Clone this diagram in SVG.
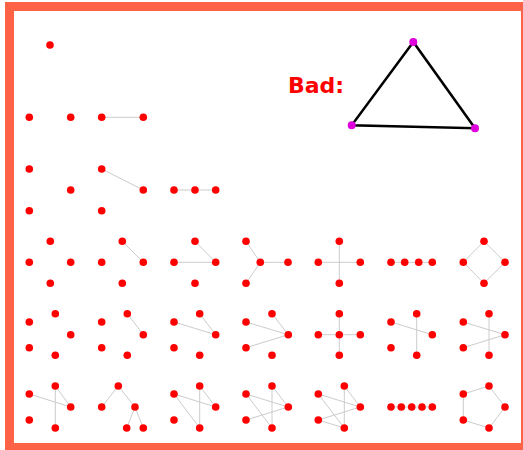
<svg xmlns="http://www.w3.org/2000/svg" width="523" height="450" viewBox="0 0 523 450">
<style>
.n{fill:#ff0000}
.e{stroke:#cccccc;stroke-width:1;fill:none}
.b{stroke:#000;stroke-width:2.5;fill:none}
.m{fill:#dd00dd}
.t{font-family:"DejaVu Sans",sans-serif;font-weight:bold;font-size:22px;fill:#ff0000}
</style>
<rect x="0" y="0" width="523" height="450" fill="#ffffff"/>
<rect x="9.5" y="6.5" width="516" height="441" fill="none" stroke="#ff6347" stroke-width="9"/>
<g id="connectors">
<line class="e" x1="101.7" y1="117.3" x2="143.3" y2="117.3"/>
<line class="e" x1="101.7" y1="169" x2="143.3" y2="190"/>
<polyline class="e" points="174,190 215.7,190"/>
<line class="e" x1="122.3" y1="241.3" x2="143.3" y2="262.3"/>
<line class="e" x1="174" y1="262.3" x2="215.7" y2="262.3"/>
<line class="e" x1="195" y1="241.3" x2="215.7" y2="262.3"/>
<line class="e" x1="246" y1="241.3" x2="260.3" y2="262.3"/>
<line class="e" x1="260.3" y1="262.3" x2="288" y2="262.3"/>
<line class="e" x1="246" y1="283.3" x2="260.3" y2="262.3"/>
<line class="e" x1="318.3" y1="262.3" x2="360.3" y2="262.3"/>
<line class="e" x1="339.3" y1="241.3" x2="339.3" y2="283.3"/>
<line class="e" x1="391" y1="262.3" x2="432.3" y2="262.3"/>
<polygon class="e" points="463.3,262.3 484,241.3 505,262.3 484,283.3"/>
<line class="e" x1="127.3" y1="313.7" x2="143.3" y2="334.7"/>
<line class="e" x1="174" y1="322" x2="215.7" y2="334.7"/>
<line class="e" x1="199.7" y1="313.7" x2="215.7" y2="334.7"/>
<line class="e" x1="246" y1="322" x2="288.3" y2="334.7"/>
<line class="e" x1="272" y1="313.7" x2="288.3" y2="334.7"/>
<line class="e" x1="246" y1="347.7" x2="288.3" y2="334.7"/>
<line class="e" x1="318.3" y1="334.7" x2="360.3" y2="334.7"/>
<line class="e" x1="339.3" y1="313.7" x2="339.3" y2="355.3"/>
<line class="e" x1="391" y1="322" x2="432.3" y2="334.7"/>
<line class="e" x1="416.7" y1="313.7" x2="416.7" y2="355.3"/>
<line class="e" x1="463.3" y1="322" x2="505" y2="334.7"/>
<line class="e" x1="463.3" y1="347.7" x2="505" y2="334.7"/>
<line class="e" x1="489" y1="313.7" x2="489" y2="355.3"/>
<line class="e" x1="29.3" y1="394" x2="70.7" y2="407"/>
<line class="e" x1="55.3" y1="386" x2="70.7" y2="407"/>
<line class="e" x1="55.3" y1="386" x2="55.3" y2="428"/>
<line class="e" x1="101.7" y1="407" x2="118.3" y2="386"/>
<line class="e" x1="118.3" y1="386" x2="135" y2="407"/>
<line class="e" x1="135" y1="407" x2="126.7" y2="428"/>
<line class="e" x1="135" y1="407" x2="143.3" y2="428"/>
<line class="e" x1="174" y1="394" x2="215.7" y2="407"/>
<line class="e" x1="199.7" y1="386" x2="215.7" y2="407"/>
<line class="e" x1="199.7" y1="386" x2="199.7" y2="428"/>
<line class="e" x1="174" y1="394" x2="199.7" y2="428"/>
<line class="e" x1="246" y1="394" x2="288.3" y2="407"/>
<line class="e" x1="272" y1="386" x2="288.3" y2="407"/>
<line class="e" x1="272" y1="386" x2="272" y2="428"/>
<line class="e" x1="246" y1="394" x2="272" y2="428"/>
<line class="e" x1="246" y1="420" x2="288.3" y2="407"/>
<line class="e" x1="318.3" y1="394" x2="360.3" y2="407"/>
<line class="e" x1="344.3" y1="386" x2="360.3" y2="407"/>
<line class="e" x1="344.3" y1="386" x2="344.3" y2="428"/>
<line class="e" x1="318.3" y1="394" x2="344.3" y2="428"/>
<line class="e" x1="318.3" y1="420" x2="360.3" y2="407"/>
<line class="e" x1="318.3" y1="420" x2="344.3" y2="428"/>
<line class="e" x1="391" y1="407" x2="432.3" y2="407"/>
<polygon class="e" points="463.3,394 489,386 505,407 489,428 463.3,420"/>
<polygon class="b" points="413.3,42 351.7,125.3 475,128.3"/>
</g>
<g id="g1"><circle class="n" cx="50" cy="45" r="3.8"/></g>
<g id="g2a"><circle class="n" cx="29.3" cy="117.3" r="3.8"/><circle class="n" cx="70.7" cy="117.3" r="3.8"/></g>
<g id="g2b"><circle class="n" cx="101.7" cy="117.3" r="3.8"/><circle class="n" cx="143.3" cy="117.3" r="3.8"/></g>
<g id="g3a"><circle class="n" cx="29.3" cy="169" r="3.8"/><circle class="n" cx="70.7" cy="190" r="3.8"/><circle class="n" cx="29.3" cy="210.7" r="3.8"/></g>
<g id="g3b"><circle class="n" cx="101.7" cy="169" r="3.8"/><circle class="n" cx="143.3" cy="190" r="3.8"/><circle class="n" cx="101.7" cy="210.7" r="3.8"/></g>
<g id="g3c"><circle class="n" cx="174" cy="190" r="3.8"/><circle class="n" cx="195" cy="190" r="3.8"/><circle class="n" cx="215.7" cy="190" r="3.8"/></g>
<g id="g4a"><circle class="n" cx="29.3" cy="262.3" r="3.8"/><circle class="n" cx="50.3" cy="241.3" r="3.8"/><circle class="n" cx="70.7" cy="262.3" r="3.8"/><circle class="n" cx="50.3" cy="283.3" r="3.8"/></g>
<g id="g4b"><circle class="n" cx="101.7" cy="262.3" r="3.8"/><circle class="n" cx="122.3" cy="241.3" r="3.8"/><circle class="n" cx="143.3" cy="262.3" r="3.8"/><circle class="n" cx="122.3" cy="283.3" r="3.8"/></g>
<g id="g4c"><circle class="n" cx="174" cy="262.3" r="3.8"/><circle class="n" cx="195" cy="241.3" r="3.8"/><circle class="n" cx="215.7" cy="262.3" r="3.8"/><circle class="n" cx="195" cy="283.3" r="3.8"/></g>
<g id="g4d"><circle class="n" cx="246" cy="241.3" r="3.8"/><circle class="n" cx="260.3" cy="262.3" r="3.8"/><circle class="n" cx="288" cy="262.3" r="3.8"/><circle class="n" cx="246" cy="283.3" r="3.8"/></g>
<g id="g4e"><circle class="n" cx="318.3" cy="262.3" r="3.8"/><circle class="n" cx="339.3" cy="241.3" r="3.8"/><circle class="n" cx="360.3" cy="262.3" r="3.8"/><circle class="n" cx="339.3" cy="283.3" r="3.8"/></g>
<g id="g4f"><circle class="n" cx="391" cy="262.3" r="3.8"/><circle class="n" cx="404.7" cy="262.3" r="3.8"/><circle class="n" cx="418.7" cy="262.3" r="3.8"/><circle class="n" cx="432.3" cy="262.3" r="3.8"/></g>
<g id="g4g"><circle class="n" cx="463.3" cy="262.3" r="3.8"/><circle class="n" cx="484" cy="241.3" r="3.8"/><circle class="n" cx="505" cy="262.3" r="3.8"/><circle class="n" cx="484" cy="283.3" r="3.8"/></g>
<g id="g5a"><circle class="n" cx="29.3" cy="322" r="3.8"/><circle class="n" cx="55.3" cy="313.7" r="3.8"/><circle class="n" cx="70.7" cy="334.7" r="3.8"/><circle class="n" cx="29.3" cy="347.7" r="3.8"/><circle class="n" cx="55.3" cy="355.3" r="3.8"/></g>
<g id="g5b"><circle class="n" cx="101.7" cy="322" r="3.8"/><circle class="n" cx="127.3" cy="313.7" r="3.8"/><circle class="n" cx="143.3" cy="334.7" r="3.8"/><circle class="n" cx="101.7" cy="347.7" r="3.8"/><circle class="n" cx="127.3" cy="355.3" r="3.8"/></g>
<g id="g5c"><circle class="n" cx="174" cy="322" r="3.8"/><circle class="n" cx="199.7" cy="313.7" r="3.8"/><circle class="n" cx="215.7" cy="334.7" r="3.8"/><circle class="n" cx="174" cy="347.7" r="3.8"/><circle class="n" cx="199.7" cy="355.3" r="3.8"/></g>
<g id="g5d"><circle class="n" cx="246" cy="322" r="3.8"/><circle class="n" cx="272" cy="313.7" r="3.8"/><circle class="n" cx="288.3" cy="334.7" r="3.8"/><circle class="n" cx="246" cy="347.7" r="3.8"/><circle class="n" cx="272" cy="355.3" r="3.8"/></g>
<g id="g5e"><circle class="n" cx="318.3" cy="334.7" r="3.8"/><circle class="n" cx="339.3" cy="313.7" r="3.8"/><circle class="n" cx="339.3" cy="334.7" r="3.8"/><circle class="n" cx="360.3" cy="334.7" r="3.8"/><circle class="n" cx="339.3" cy="355.3" r="3.8"/></g>
<g id="g5f"><circle class="n" cx="391" cy="322" r="3.8"/><circle class="n" cx="416.7" cy="313.7" r="3.8"/><circle class="n" cx="432.3" cy="334.7" r="3.8"/><circle class="n" cx="391" cy="347.7" r="3.8"/><circle class="n" cx="416.7" cy="355.3" r="3.8"/></g>
<g id="g5g"><circle class="n" cx="463.3" cy="322" r="3.8"/><circle class="n" cx="489" cy="313.7" r="3.8"/><circle class="n" cx="505" cy="334.7" r="3.8"/><circle class="n" cx="463.3" cy="347.7" r="3.8"/><circle class="n" cx="489" cy="355.3" r="3.8"/></g>
<g id="g6a"><circle class="n" cx="29.3" cy="394" r="3.8"/><circle class="n" cx="55.3" cy="386" r="3.8"/><circle class="n" cx="70.7" cy="407" r="3.8"/><circle class="n" cx="29.3" cy="420" r="3.8"/><circle class="n" cx="55.3" cy="428" r="3.8"/></g>
<g id="g6b"><circle class="n" cx="101.7" cy="407" r="3.8"/><circle class="n" cx="118.3" cy="386" r="3.8"/><circle class="n" cx="135" cy="407" r="3.8"/><circle class="n" cx="126.7" cy="428" r="3.8"/><circle class="n" cx="143.3" cy="428" r="3.8"/></g>
<g id="g6c"><circle class="n" cx="174" cy="394" r="3.8"/><circle class="n" cx="199.7" cy="386" r="3.8"/><circle class="n" cx="215.7" cy="407" r="3.8"/><circle class="n" cx="174" cy="420" r="3.8"/><circle class="n" cx="199.7" cy="428" r="3.8"/></g>
<g id="g6d"><circle class="n" cx="246" cy="394" r="3.8"/><circle class="n" cx="272" cy="386" r="3.8"/><circle class="n" cx="288.3" cy="407" r="3.8"/><circle class="n" cx="246" cy="420" r="3.8"/><circle class="n" cx="272" cy="428" r="3.8"/></g>
<g id="g6e"><circle class="n" cx="318.3" cy="394" r="3.8"/><circle class="n" cx="344.3" cy="386" r="3.8"/><circle class="n" cx="360.3" cy="407" r="3.8"/><circle class="n" cx="318.3" cy="420" r="3.8"/><circle class="n" cx="344.3" cy="428" r="3.8"/></g>
<g id="g6f"><circle class="n" cx="391" cy="407" r="3.8"/><circle class="n" cx="401.3" cy="407" r="3.8"/><circle class="n" cx="411.7" cy="407" r="3.8"/><circle class="n" cx="422" cy="407" r="3.8"/><circle class="n" cx="432.3" cy="407" r="3.8"/></g>
<g id="g6g"><circle class="n" cx="463.3" cy="394" r="3.8"/><circle class="n" cx="489" cy="386" r="3.8"/><circle class="n" cx="505" cy="407" r="3.8"/><circle class="n" cx="489" cy="428" r="3.8"/><circle class="n" cx="463.3" cy="420" r="3.8"/></g>
<g id="bad"><text class="t" x="288" y="93">Bad:</text><circle class="m" cx="413.3" cy="42" r="4"/><circle class="m" cx="351.7" cy="125.3" r="4"/><circle class="m" cx="475" cy="128.3" r="4"/></g>
</svg>
